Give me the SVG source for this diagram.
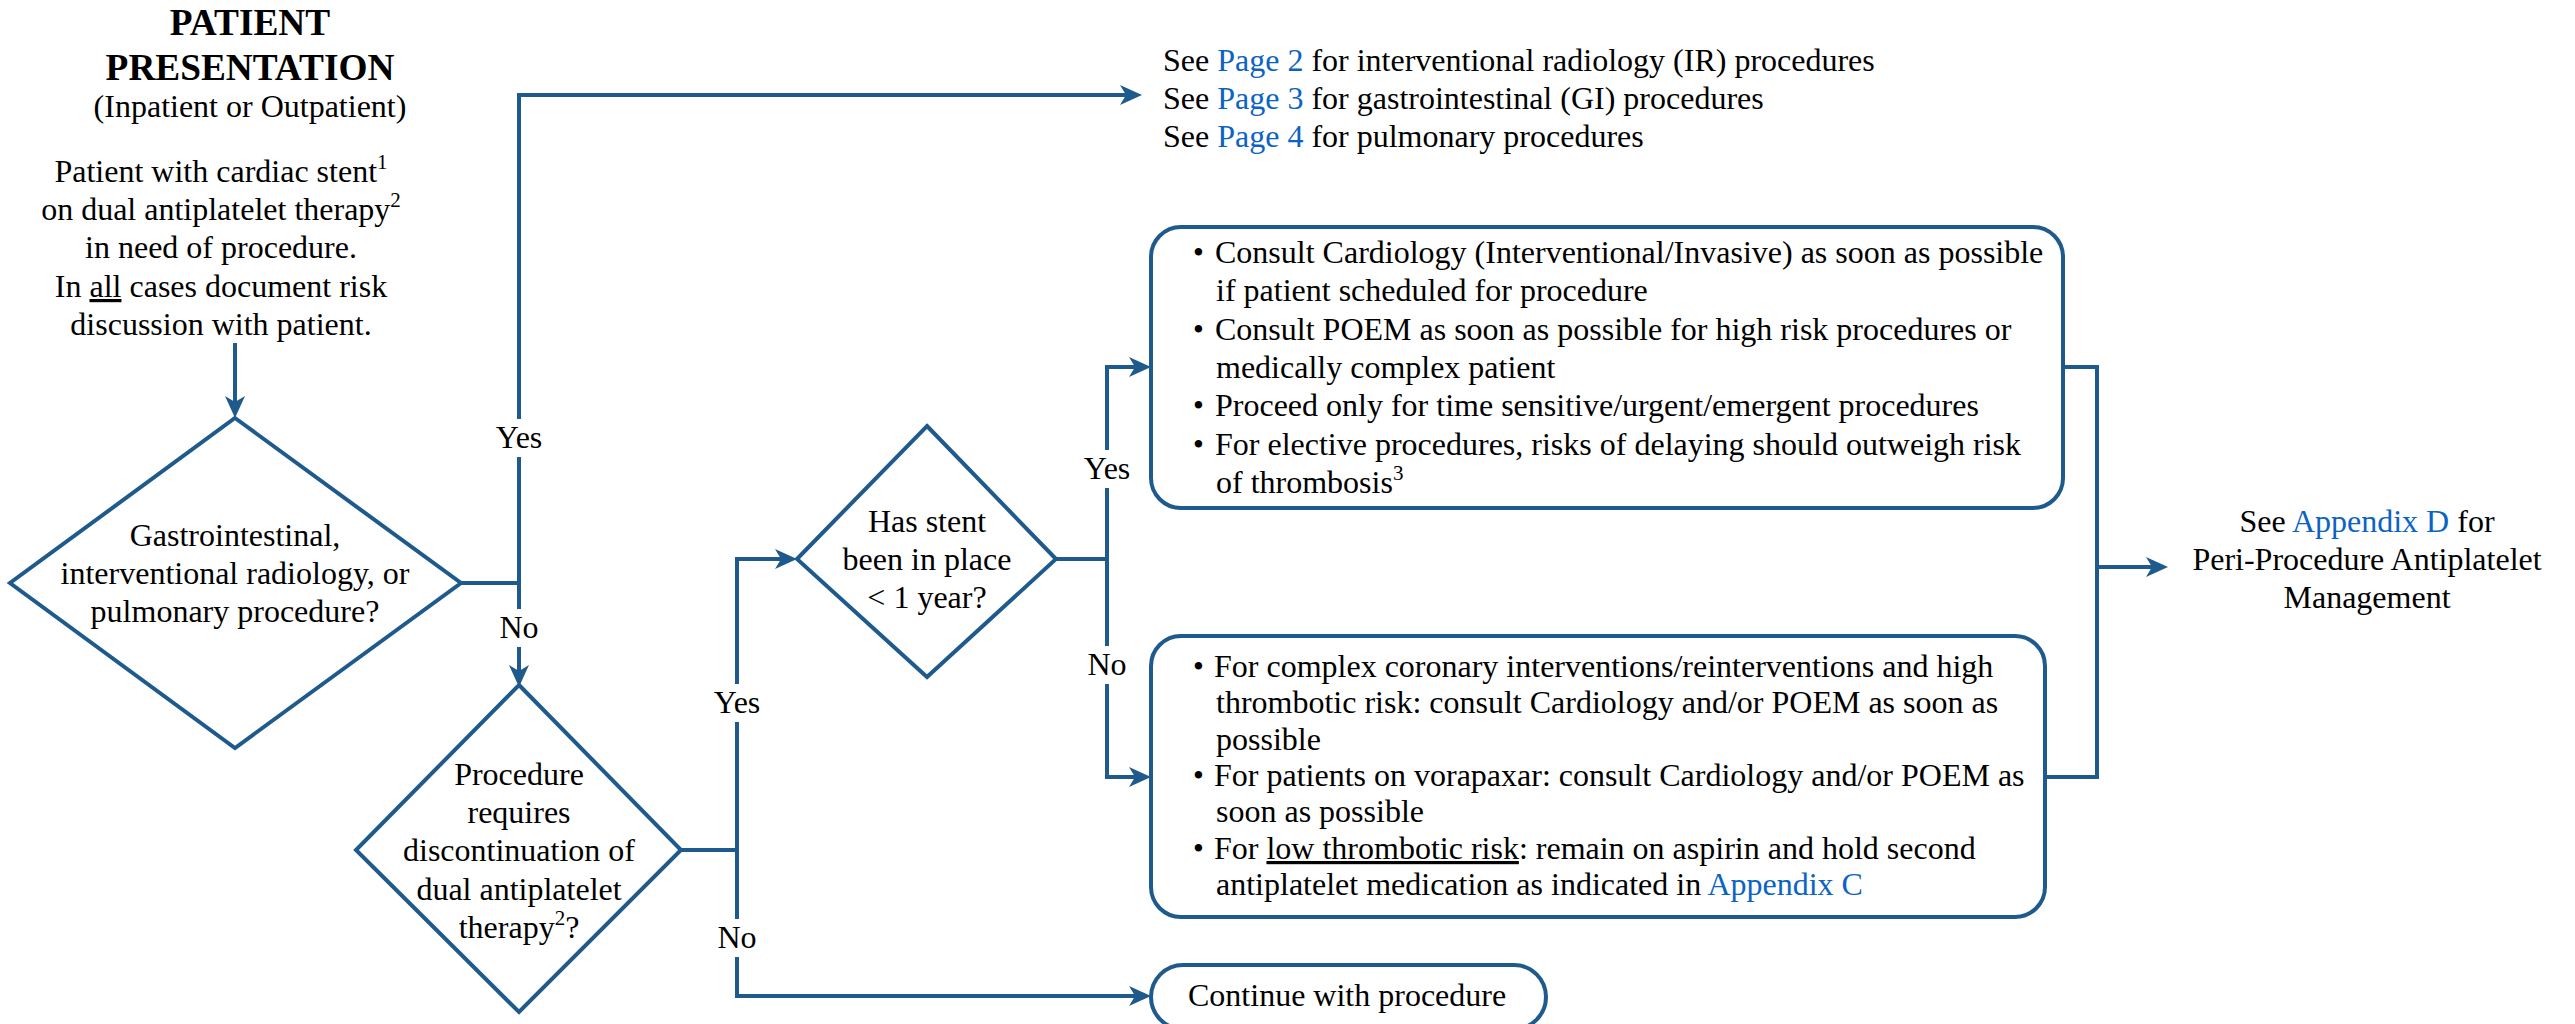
<svg xmlns="http://www.w3.org/2000/svg" width="2575" height="1024" viewBox="0 0 2575 1024">
<style>
text{font-family:"Liberation Serif","Times New Roman",serif;font-size:32px;fill:#000}
.c{text-anchor:middle}
.t{font-weight:bold;font-size:37.3px}
.lnk{fill:#0b63c4}
.sup{font-size:21px}
.bul{font-size:31px}
.shape{fill:#fff;stroke:#1f5a8c;stroke-width:4}
.ln{fill:none;stroke:#1f5a8c;stroke-width:4}
.lblbg{fill:#fff}
</style>
<defs>
<marker id="arr" markerUnits="userSpaceOnUse" markerWidth="22" markerHeight="22" viewBox="0 0 22 22" refX="10" refY="11" orient="auto">
<path d="M0,1 L22,11 L0,21 L6,11 z" fill="#1f5a8c"/>
</marker>
</defs>
<rect width="2575" height="1024" fill="#fff"/>

<g id="connectors">
<path class="ln" d="M235,343 V406" marker-end="url(#arr)"/>
<path class="ln" d="M461,583 H519"/>
<path class="ln" d="M519,583 V95 H1130" marker-end="url(#arr)"/>
<path class="ln" d="M519,583 V675" marker-end="url(#arr)"/>
<path class="ln" d="M681,850 H737 V559 H785" marker-end="url(#arr)"/>
<path class="ln" d="M737,850 V996 H1139" marker-end="url(#arr)"/>
<path class="ln" d="M1056,559 H1107 V367 H1139" marker-end="url(#arr)"/>
<path class="ln" d="M1107,559 V777 H1139" marker-end="url(#arr)"/>
<path class="ln" d="M2063,367 H2097 V777 H2045"/>
<path class="ln" d="M2097,567 H2156" marker-end="url(#arr)"/>
<g id="labels">
<rect class="lblbg" x="494" y="419" width="50" height="38"/>
<text class="c" x="519" y="448">Yes</text>
<rect class="lblbg" x="499" y="609" width="40" height="38"/>
<text class="c" x="519" y="638">No</text>
<rect class="lblbg" x="712" y="684" width="50" height="38"/>
<text class="c" x="737" y="713">Yes</text>
<rect class="lblbg" x="717" y="919" width="40" height="38"/>
<text class="c" x="737" y="948">No</text>
<rect class="lblbg" x="1082" y="450" width="50" height="38"/>
<text class="c" x="1107" y="479">Yes</text>
<rect class="lblbg" x="1087" y="646" width="40" height="38"/>
<text class="c" x="1107" y="675">No</text>
</g>
</g>

<g id="start">
<text class="c t" x="250" y="35">PATIENT</text>
<text class="c t" x="250" y="80">PRESENTATION</text>
<text class="c" x="250" y="117">(Inpatient or Outpatient)</text>
<text class="c" x="221" y="182">Patient with cardiac stent<tspan class="sup" dy="-13">1</tspan></text>
<text class="c" x="221" y="220">on dual antiplatelet therapy<tspan class="sup" dy="-13">2</tspan></text>
<text class="c" x="221" y="258">in need of procedure.</text>
<text class="c" x="221" y="297">In <tspan text-decoration="underline">all</tspan> cases document risk</text>
<text class="c" x="221" y="335">discussion with patient.</text>
</g>

<g id="decision1">
<polygon class="shape" points="235,418 461,583 235,748 10,583"/>
<text class="c" x="235" y="546">Gastrointestinal,</text>
<text class="c" x="235" y="584">interventional radiology, or</text>
<text class="c" x="235" y="622">pulmonary procedure?</text>
</g>

<g id="decision2">
<polygon class="shape" points="519,685 681,850 519,1012 356,850"/>
<text class="c" x="519" y="785">Procedure</text>
<text class="c" x="519" y="823">requires</text>
<text class="c" x="519" y="861">discontinuation of</text>
<text class="c" x="519" y="900">dual antiplatelet</text>
<text class="c" x="519" y="938">therapy<tspan class="sup" dy="-13">2</tspan><tspan dy="13">?</tspan></text>
</g>

<g id="decision3">
<polygon class="shape" points="927,426 1056,559 927,677 797,559"/>
<text class="c" x="927" y="532">Has stent</text>
<text class="c" x="927" y="570">been in place</text>
<text class="c" x="927" y="608">&lt; 1 year?</text>
</g>

<g id="pages">
<text x="1163" y="71">See <tspan class="lnk">Page 2</tspan> for interventional radiology (IR) procedures</text>
<text x="1163" y="109">See <tspan class="lnk">Page 3</tspan> for gastrointestinal (GI) procedures</text>
<text x="1163" y="147">See <tspan class="lnk">Page 4</tspan> for pulmonary procedures</text>
</g>

<g id="box-recent">
<rect class="shape" x="1151" y="227" width="912" height="281" rx="30"/>
<text class="bul" x="1193" y="263">•</text>
<text x="1215" y="263">Consult Cardiology (Interventional/Invasive) as soon as possible</text>
<text x="1216" y="301">if patient scheduled for procedure</text>
<text class="bul" x="1193" y="340">•</text>
<text x="1215" y="340">Consult POEM as soon as possible for high risk procedures or</text>
<text x="1216" y="378">medically complex patient</text>
<text class="bul" x="1193" y="416">•</text>
<text x="1215" y="416">Proceed only for time sensitive/urgent/emergent procedures</text>
<text class="bul" x="1193" y="455">•</text>
<text x="1215" y="455">For elective procedures, risks of delaying should outweigh risk</text>
<text x="1216" y="493">of thrombosis<tspan class="sup" dy="-13">3</tspan></text>
</g>

<g id="box-older">
<rect class="shape" x="1151" y="636" width="894" height="281" rx="30"/>
<text class="bul" x="1193" y="677">•</text>
<text x="1214" y="677">For complex coronary interventions/reinterventions and high</text>
<text x="1216" y="713">thrombotic risk: consult Cardiology and/or POEM as soon as</text>
<text x="1216" y="750">possible</text>
<text class="bul" x="1193" y="786">•</text>
<text x="1214" y="786">For patients on vorapaxar: consult Cardiology and/or POEM as</text>
<text x="1216" y="822">soon as possible</text>
<text class="bul" x="1193" y="859">•</text>
<text x="1214" y="859">For <tspan text-decoration="underline">low thrombotic risk</tspan>: remain on aspirin and hold second</text>
<text x="1216" y="895">antiplatelet medication as indicated in <tspan class="lnk">Appendix C</tspan></text>
</g>

<g id="continue">
<rect class="shape" x="1151" y="965" width="395" height="64" rx="32"/>
<text x="1188" y="1006">Continue with procedure</text>
</g>

<g id="appendixD">
<text class="c" x="2367" y="532">See <tspan class="lnk">Appendix D</tspan> for</text>
<text class="c" x="2367" y="570">Peri-Procedure Antiplatelet</text>
<text class="c" x="2367" y="608">Management</text>
</g>
</svg>
